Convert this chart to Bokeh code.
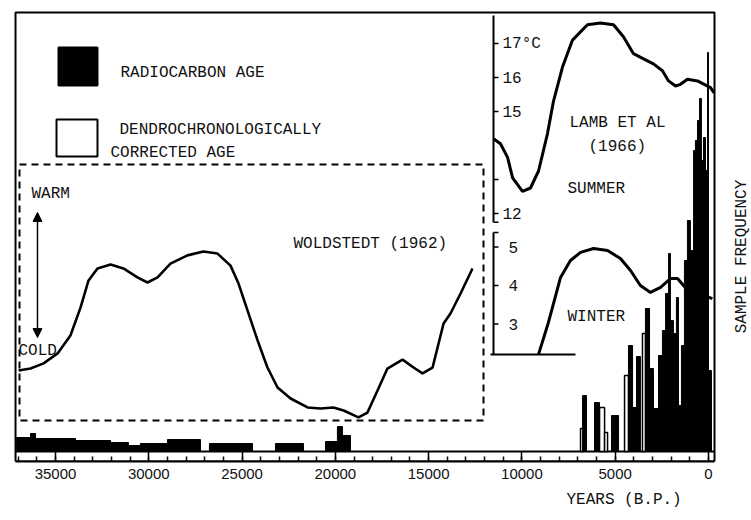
import math
from bokeh.plotting import figure
from bokeh.models import (Range1d, FixedTicker, Label, Arrow, NormalHead,
                          NumeralTickFormatter, Title)
from bokeh.embed import file_html
from bokeh.resources import INLINE

# ---------------- data ----------------
tick_years = [35000, 30000, 25000, 20000, 15000, 10000, 5000, 0]
minor_years = list(range(0, 37001, 1000))

# Woldstedt (1962) relative temperature index (0 = cold, 10 = warm)
wold_years = [36980, 36340, 35640, 34890, 34200, 33660, 33230, 32750, 32050, 31360,
              30610, 30070, 29530, 28840, 27930, 27070, 26320, 25620, 25190, 24710,
              24170, 23640, 23100, 22400, 21490, 20800, 20100, 19560, 18760, 18280,
              17740, 17210, 16400, 15810, 15330, 14790, 14200, 13830, 13290, 12650]
wold_index = [1.95, 2.03, 2.23, 2.62, 3.32, 4.41, 5.47, 5.94, 6.09, 5.94,
              5.59, 5.39, 5.59, 6.13, 6.45, 6.60, 6.52, 6.05, 5.35, 4.30,
              3.13, 2.07, 1.29, 0.86, 0.51, 0.47, 0.51, 0.39, 0.12, 0.31,
              1.17, 2.03, 2.38, 2.07, 1.84, 2.07, 3.79, 4.18, 4.96, 5.94]

# Lamb et al (1966) summer and winter temperatures (deg C)
summer_years = [11520, 11150, 10770, 10500, 9970, 9540, 9110, 8630, 8310, 7830,
                7290, 6490, 5790, 5090, 4560, 4020, 3480, 2950, 2470, 2140,
                1770, 1500, 1130, 590, -110, -300]
summer_temp = [14.2, 14.05, 13.65, 13.05, 12.65, 12.75, 13.25, 14.35, 15.3, 16.3,
               17.1, 17.55, 17.6, 17.55, 17.2, 16.7, 16.55, 16.4, 16.2, 15.9,
               15.75, 15.8, 15.95, 15.9, 15.7, 15.55]
summer_ticks = [17, 16, 15, 13, 12]
summer_tick_labels = ["17°C", "16", "15", "", "12"]

winter_years = [9110, 8580, 7930, 7400, 6860, 6160, 5410, 4720, 4180, 3650,
                3110, 2570, 2040, 1660, 1340, 970, 430, -210]
winter_temp = [2.21, 3.04, 4.21, 4.65, 4.86, 4.96, 4.91, 4.70, 4.39, 4.0,
               3.82, 3.95, 4.18, 4.18, 4.0, 3.79, 3.77, 3.66]
winter_ticks = [5, 4, 3]
winter_tick_labels = ["5", "4", "3"]

# Sample frequency: radiocarbon ages (black)
rc_old = [37100, 36340, 36070, 33930, 32050, 31090, 30450, 29000, 26750, 23210,
          20530, 19890, 19620,
          6750, 6110, 5200, 4290, 4070, 3860, 3380, 3160, 2950, 2680,
          2470, 2300, 2140, 2040, 1880, 1720, 1610, 1450, 1290, 1130,
          970, 800, 700, 590, 480, 380, 270, 160, 50, 0]
rc_young = [36340, 36070, 33930, 32050, 31090, 30450, 29000, 27230, 24440, 21710,
            19890, 19620, 19190,
            6540, 5840, 4820, 4070, 3860, 3650, 3160, 2950, 2680, 2470,
            2300, 2140, 2040, 1880, 1720, 1610, 1450, 1290, 1130, 970,
            800, 700, 590, 480, 380, 270, 160, 50, 0, -160]
rc_freq = [1.4, 1.8, 1.3, 1.1, 0.9, 0.6, 0.8, 1.2, 0.8, 0.8,
           1.0, 2.5, 1.6,
           5.6, 4.9, 3.6, 10.6, 4.4, 9.5, 14.3, 8.3, 4.3, 9.6,
           12.1, 15.8, 19.8, 13.1, 11.8, 15.4, 4.6, 10.6, 19.1, 23.1,
           20.1, 30.1, 31.1, 33.1, 35.3, 29.1, 31.4, 28.1, 39.9, 8.1]

# Sample frequency: dendrochronologically corrected ages (white)
dc_old = [6860, 5840, 5570, 4500, 3540]
dc_young = [6700, 5570, 5410, 4290, 3380]
dc_freq = [2.3, 4.4, 1.9, 7.6, 11.8]

# ---------------- figure ----------------
MONO = "Liberation Mono"
INK = "#111111"
X_OLD, X_YOUNG = 37144, -322      # extent of the boxed time axis
Y_LOW, Y_TOP = -1.0, 43.9          # scale strip bottom / box top

p = figure(width=751, height=520,
           x_range=Range1d(37252, -2305), y_range=Range1d(-1.0, 44.1),
           output_backend="svg", toolbar_location=None, y_axis_location=None,
           min_border_left=13, min_border_right=0, min_border_top=10,
           min_border_bottom=59)
p.extra_y_ranges = {
    "summer": Range1d(4.706, 17.9706),
    "winter": Range1d(-0.571, 11.1429),
    "wold": Range1d(-1.6016, 16.0156),
}
p.grid.visible = False
p.outline_line_color = None
p.background_fill_color = "white"
p.border_fill_color = "white"

ax = p.xaxis[0]
ax.ticker = FixedTicker(ticks=tick_years, minor_ticks=minor_years)
ax.formatter = NumeralTickFormatter(format="0")
ax.bounds = (X_YOUNG, X_OLD)
ax.major_tick_in = 10
ax.major_tick_out = 0
ax.minor_tick_in = 5
ax.minor_tick_out = 0
ax.major_tick_line_width = 1.5
ax.minor_tick_line_width = 1.5
ax.axis_line_width = 2
ax.major_label_standoff = 7
ax.major_label_text_font = "Liberation Sans"
ax.major_label_text_font_size = "15px"
ax.major_label_text_color = INK

# x-axis title placed toward the right, as in the original
p.add_layout(Title(text="YEARS (B.P.)", align="left", offset=553, standoff=15,
                   text_font=MONO, text_font_size="16px", text_font_style="normal",
                   text_color=INK), "below")

# outer box and scale strip top line
p.quad(left=[X_OLD], right=[X_YOUNG], bottom=[Y_LOW], top=[Y_TOP],
       fill_color=None, line_color="black", line_width=2)
p.segment(x0=[X_OLD], y0=[0], x1=[X_YOUNG], y1=[0], line_color="black", line_width=2)

# histogram bars
p.quad(left=dc_old, right=dc_young, bottom=0, top=dc_freq,
       fill_color="white", line_color="black", line_width=1.5)
p.quad(left=rc_old, right=rc_young, bottom=0, top=rc_freq,
       fill_color="black", line_color="black", line_width=1)

# Woldstedt box and curve
p.quad(left=[36930], right=[12060], bottom=[0], top=[10], y_range_name="wold",
       fill_color=None, line_color="black", line_width=2, line_dash="7 5")
p.line(wold_years, wold_index, y_range_name="wold", line_color="black", line_width=2.6)
p.add_layout(Arrow(x_start=35966, y_start=3.24, x_end=35966, y_end=8.125,
                   y_range_name="wold", line_width=1.5,
                   start=NormalHead(size=9, fill_color="black", line_color="black"),
                   end=NormalHead(size=9, fill_color="black", line_color="black")))

# Lamb curves
p.line(summer_years, summer_temp, y_range_name="summer", line_color="black", line_width=3)
p.line(winter_years, winter_temp, y_range_name="winter", line_color="black", line_width=3)

# inner temperature axes
AX_X = 11524
TICK_X = 11256
p.segment(x0=[AX_X], y0=[11.74], x1=[AX_X], y1=[17.82], y_range_name="summer",
          line_color="black", line_width=2)
p.segment(x0=[AX_X] * (len(summer_ticks) + 1), y0=summer_ticks + [11.74],
          x1=[TICK_X] * (len(summer_ticks) + 1), y1=summer_ticks + [11.74],
          y_range_name="summer", line_color="black", line_width=1.5)
for t, lab in zip(summer_ticks, summer_tick_labels):
    if lab:
        p.add_layout(Label(x=11042, y=t, text=lab, y_range_name="summer",
                           text_font=MONO, text_font_size="16px", text_color=INK,
                           text_baseline="middle", text_align="left"))

p.segment(x0=[AX_X], y0=[2.208], x1=[AX_X], y1=[5.377], y_range_name="winter",
          line_color="black", line_width=2)
p.segment(x0=[11685], y0=[2.208], x1=[7129], y1=[2.208], y_range_name="winter",
          line_color="black", line_width=2)
p.segment(x0=[AX_X] * (len(winter_ticks) + 1), y0=winter_ticks + [5.377],
          x1=[TICK_X] * (len(winter_ticks) + 1), y1=winter_ticks + [5.377],
          y_range_name="winter", line_color="black", line_width=1.5)
for t, lab in zip(winter_ticks, winter_tick_labels):
    p.add_layout(Label(x=10720, y=t, text=lab, y_range_name="winter",
                       text_font=MONO, text_font_size="16px", text_color=INK,
                       text_baseline="middle", text_align="left"))

# legend boxes
p.quad(left=[34840], right=[32750], bottom=[36.6], top=[40.4],
       fill_color="black", line_color="black", line_width=2)
p.quad(left=[34947], right=[32750], bottom=[29.5], top=[33.2],
       fill_color="white", line_color="black", line_width=2)


def txt(x, y, s, rng="default", **kw):
    p.add_layout(Label(x=x, y=y, text=s, y_range_name=rng, text_font=MONO,
                       text_font_size="16px", text_color=INK,
                       text_baseline="middle", text_align="left", **kw))


txt(31517, 37.9, "RADIOCARBON AGE")
txt(31570, 32.2, "DENDROCHRONOLOGICALLY")
txt(32053, 29.9, "CORRECTED AGE")
txt(36287, 8.83, "WARM", "wold")
txt(36984, 2.73, "COLD", "wold")
txt(22244, 6.875, "WOLDSTEDT (1962)", "wold")
txt(7450, 14.65, "LAMB ET AL", "summer")
txt(6432, 13.97, "(1966)", "summer")
txt(7558, 12.71, "SUMMER", "summer")
txt(7558, 3.195, "WINTER", "winter")
p.add_layout(Label(x=-1769, y=19.5, text="SAMPLE FREQUENCY", angle=math.pi / 2,
                   text_font=MONO, text_font_size="16px", text_color=INK,
                   text_baseline="middle", text_align="center"))

open("out.html", "w").write(file_html(p, INLINE))
